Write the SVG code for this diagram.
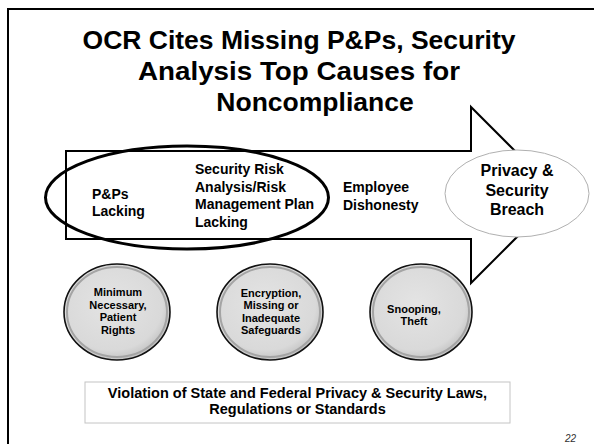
<svg xmlns="http://www.w3.org/2000/svg" width="594" height="444" viewBox="0 0 594 444">
<style>
text{font-family:"Liberation Sans",Arial,sans-serif;font-weight:bold;fill:#000}
.title{font-size:26.5px;text-anchor:middle}
.lbl{font-size:14px}
.big{font-size:16px;text-anchor:middle}
.c{font-size:11px;text-anchor:middle}
.foot{font-size:14.5px;text-anchor:middle}
.pg{font-size:10px;font-weight:normal;font-style:italic;fill:#333}
.circ{fill:url(#cg);stroke:#111;stroke-width:1.6}
.ring{fill:none;stroke:#a4a4a4;stroke-width:2}
</style>
<defs>
<radialGradient id="cg" cx="0.45" cy="0.42" r="0.6">
<stop offset="0" stop-color="#e4e4e4"/>
<stop offset="0.8" stop-color="#d9d9d9"/>
<stop offset="1" stop-color="#c0c0c0"/>
</radialGradient>
</defs>
<rect x="0" y="0" width="594" height="444" fill="#fff"/>
<rect x="8" y="9" width="620" height="470" fill="none" stroke="#000" stroke-width="2"/>
<g id="title">
<text class="title" x="299" y="49">OCR Cites Missing P&amp;Ps, Security</text>
<text class="title" x="299" y="80" textLength="322" lengthAdjust="spacingAndGlyphs">Analysis Top Causes for</text>
<text class="title" x="315" y="111">Noncompliance</text>
</g>
<g id="arrow">
<polygon points="66,151 471,151 471,107 559,195 471,283 471,239 66,239" fill="#fff" stroke="#000" stroke-width="2"/>
</g>
<g id="pps">
<text class="lbl" x="92" y="199">P&amp;Ps</text>
<text class="lbl" x="92" y="216">Lacking</text>
</g>
<g id="risk">
<text class="lbl" x="195" y="174">Security Risk</text>
<text class="lbl" x="195" y="191.5">Analysis/Risk</text>
<text class="lbl" x="195" y="209">Management Plan</text>
<text class="lbl" x="195" y="226.5">Lacking</text>
</g>
<g id="highlight">
<ellipse cx="187" cy="197.5" rx="141.5" ry="51.5" fill="none" stroke="#000" stroke-width="3"/>
</g>
<g id="employee">
<text class="lbl" x="343" y="192">Employee</text>
<text class="lbl" x="343" y="210">Dishonesty</text>
</g>
<g id="breach">
<ellipse cx="517" cy="193.5" rx="72" ry="43.5" fill="#fff" stroke="#b0b0b0" stroke-width="1"/>
<text class="big" x="517" y="176">Privacy &amp;</text>
<text class="big" x="517" y="195.5">Security</text>
<text class="big" x="517" y="215">Breach</text>
</g>
<g id="c1">
<ellipse class="circ" cx="117" cy="312" rx="53" ry="48"/>
<ellipse class="ring" cx="117" cy="312" rx="50" ry="45"/>
<text class="c" x="118" y="296">Minimum</text>
<text class="c" x="118" y="308.5">Necessary,</text>
<text class="c" x="118" y="321">Patient</text>
<text class="c" x="118" y="333.5">Rights</text>
</g>
<g id="c2">
<ellipse class="circ" cx="270" cy="312" rx="53" ry="48"/>
<ellipse class="ring" cx="270" cy="312" rx="50" ry="45"/>
<text class="c" x="271" y="296.5">Encryption,</text>
<text class="c" x="271" y="309">Missing or</text>
<text class="c" x="271" y="321.5">Inadequate</text>
<text class="c" x="271" y="334">Safeguards</text>
</g>
<g id="c3">
<ellipse class="circ" cx="421" cy="312" rx="51" ry="48"/>
<ellipse class="ring" cx="421" cy="312" rx="48" ry="45"/>
<text class="c" x="414" y="313">Snooping,</text>
<text class="c" x="414" y="325">Theft</text>
</g>
<g id="violation">
<rect x="85" y="382" width="425" height="41" fill="#fff" stroke="#c4c4c4" stroke-width="1"/>
<text class="foot" x="297.5" y="398">Violation of State and Federal Privacy &amp; Security Laws,</text>
<text class="foot" x="297.5" y="414">Regulations or Standards</text>
</g>
<text class="pg" x="565" y="442">22</text>
</svg>
